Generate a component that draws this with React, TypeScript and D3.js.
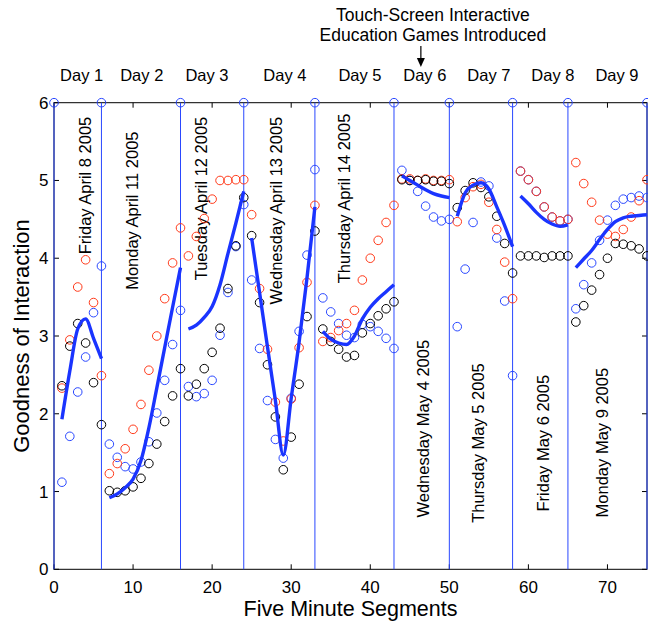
import React from 'react';
import * as d3 from 'd3';

const segments = d3.range(1, 76);

const blackValues = [
  2.36, 2.87, 3.16, 2.91, 2.40, 1.86,
  1.01, 0.99, 1.01, 1.06, 1.17, 1.36, 1.61, 1.90, 2.23, 2.58,
  2.23, 2.38, 2.58, 2.79, 3.10, 3.61, 4.16, 4.78,
  4.29, 3.43, 2.63, 1.96, 1.28, 1.70, 2.38, 3.25, 4.35,
  3.09, 2.93, 2.83, 2.73, 2.75, 3.04, 3.16, 3.26, 3.35, 3.44,
  5.01, 5.00, 5.00, 5.01, 4.99, 4.99, 4.96,
  4.65, 4.87, 4.97, 4.91, 4.79, 4.54, 4.19, 3.81,
  4.03, 4.03, 4.03, 4.01, 4.03, 4.03, 4.03,
  3.18, 3.39, 3.59, 3.79, 4.00, 4.19, 4.18, 4.16, 4.12, 4.03,
];

const redValues = [
  2.33, 2.95, 3.63, 3.98, 3.43, 2.49,
  1.23, 1.36, 1.55, 1.80, 2.12, 2.56, 3.00, 3.48, 3.94, 4.39,
  4.03, 4.28, 4.51, 4.76, 5.00, 5.00, 5.01, 5.01,
  4.56, 3.61, 2.83, 2.15, 1.65, 2.19, 2.85, 3.69, 4.68,
  2.93, 2.98, 3.07, 3.16, 3.33, 3.72, 4.00, 4.23, 4.46, 4.68,
  5.02, 5.02, 5.00, 5.02, 5.00, 5.00, 5.01,
  4.47, 4.78, 4.92, 4.95, 4.72, 4.37, 3.95, 3.48,
  5.12, 5.01, 4.86, 4.66, 4.53, 4.48, 4.50,
  5.23, 4.96, 4.72, 4.49, 4.31, 4.28, 4.37, 4.53, 4.74, 5.01,
];

const blueValues = [
  1.12, 1.71, 2.28, 2.73, 3.30, 3.90,
  1.61, 1.44, 1.32, 1.29, 1.38, 1.64, 2.01, 2.43, 2.89, 3.33,
  2.35, 2.22, 2.26, 2.43, 3.01, 3.56, 4.15, 4.69,
  3.72, 2.84, 2.17, 1.67, 1.43, 2.20, 3.06, 4.04, 5.14,
  3.49, 3.31, 3.16, 3.01, 2.98, 3.15, 3.12, 3.06, 2.97, 2.84,
  5.13, 5.00, 4.86, 4.67, 4.53, 4.48, 4.50,
  3.12, 3.86, 4.46, 4.98, 4.93, 4.26, 3.45, 2.49,
  5.12, 5.01, 4.86, 4.66, 4.53, 4.48, 4.50,
  3.35, 3.66, 3.94, 4.23, 4.49, 4.68, 4.76, 4.78, 4.80, 4.78,
];

const trendStarts = [1, 7, 17, 25, 34, 44, 51, 59, 66];
const trendValues = [
  [1.93, 2.55, 3.09, 3.22, 2.97, 2.71],
  [0.92, 0.97, 1.05, 1.16, 1.40, 1.82, 2.33, 2.85, 3.37, 3.88],
  [3.09, 3.14, 3.24, 3.38, 3.66, 4.06, 4.45, 4.86],
  [4.26, 3.56, 2.86, 2.17, 1.47, 2.20, 2.92, 3.75, 4.66],
  [3.06, 2.96, 2.91, 2.89, 3.00, 3.22, 3.37, 3.48, 3.57, 3.66],
  [5.06, 5.00, 4.94, 4.88, 4.83, 4.80, 4.78],
  [4.54, 4.84, 4.94, 4.97, 4.89, 4.66, 4.42, 4.15],
  [4.80, 4.70, 4.59, 4.50, 4.44, 4.41, 4.43],
  [3.88, 3.99, 4.10, 4.24, 4.37, 4.47, 4.52, 4.54, 4.55, 4.56],
];

const dayBoundaries = [0, 6, 16, 24, 33, 43, 50, 58, 65, 75];
const dayLabels = ['Day 1', 'Day 2', 'Day 3', 'Day 4', 'Day 5', 'Day 6', 'Day 7', 'Day 8', 'Day 9'];
const dayLabelX = [3.5, 11.1, 19.35, 29.2, 38.7, 46.9, 55.0, 63.1, 71.2];

const dateLabels = [
  'Friday April 8 2005',
  'Monday April 11 2005',
  'Tuesday April 12 2005',
  'Wednesday April 13 2005',
  'Thursday April 14 2005',
  'Wednesday May 4 2005',
  'Thursday May 5 2005',
  'Friday May 6 2005',
  'Monday May 9 2005',
];
const dateLabelX = [3.92, 9.86, 18.59, 28.07, 36.67, 46.63, 53.66, 61.88, 69.27];
const dateLabelTop = [5.82, 5.63, 5.82, 5.82, 5.86, 2.95, 2.65, 2.5, 2.59];

const xTicks = [0, 10, 20, 30, 40, 50, 60, 70];
const yTicks = [0, 1, 2, 3, 4, 5, 6];

const annotationLines = ['Touch-Screen Interactive', 'Education Games Introduced'];
const annotationX = 46.4;

const FONT = '"Liberation Sans", Arial, Helvetica, sans-serif';
const RED = '#ff3a1a';
const BLUE = '#2a48ff';
const LINE_BLUE = '#1a34ff';

export default function App() {
  const W = 648;
  const H = 623;
  const x = d3.scaleLinear().domain([0, 75]).range([54, 647]);
  const y = d3.scaleLinear().domain([0, 6]).range([569.3, 102.7]);
  const left = x(0), right = x(75), top = y(6), bottom = y(0);
  const tick = 5;
  const r = 4.3;

  const line = d3
    .line<[number, number]>()
    .x((d) => x(d[0]))
    .y((d) => y(d[1]))
    .curve(d3.curveMonotoneX);

  const annX = x(annotationX);

  return (
    <svg
      width={W}
      height={H}
      style={{ position: 'absolute', left: 0, top: 0, background: '#fff' }}
      fontFamily={FONT}
    >
      <rect x={0} y={0} width={W} height={H} fill="#fff" />
      {/* annotation */}
      {annotationLines.map((t, i) => (
        <text key={t} x={annX + 12} y={21 + i * 20} fontSize={17.5} textAnchor="middle" fill="#000">
          {t}
        </text>
      ))}
      <line x1={annX} x2={annX} y1={46} y2={60} stroke="#000" strokeWidth={1.2} />
      <path d={`M${annX - 4},58 L${annX + 4},58 L${annX},67 Z`} fill="#000" />

      {/* day labels */}
      {dayLabels.map((t, i) => (
        <text key={t} x={x(dayLabelX[i])} y={81} fontSize={16.5} textAnchor="middle" fill="#000">
          {t}
        </text>
      ))}

      {/* axes box */}
      <rect x={left} y={top} width={right - left} height={bottom - top} fill="none" stroke="#000" strokeWidth={1} />
      {xTicks.map((t) => (
        <g key={'xt' + t}>
          <line x1={x(t)} x2={x(t)} y1={bottom} y2={bottom - tick} stroke="#000" />
          <line x1={x(t)} x2={x(t)} y1={top} y2={top + tick} stroke="#000" />
          <text x={x(t)} y={592.5} fontSize={17} textAnchor="middle" fill="#000">
            {t}
          </text>
        </g>
      ))}
      {yTicks.map((t) => (
        <g key={'yt' + t}>
          <line x1={left} x2={left + tick} y1={y(t)} y2={y(t)} stroke="#000" />
          <line x1={right} x2={right - tick} y1={y(t)} y2={y(t)} stroke="#000" />
          <text x={48.5} y={y(t) + 6} fontSize={17} textAnchor="end" fill="#000">
            {t}
          </text>
        </g>
      ))}

      {/* date labels */}
      {dateLabels.map((t, i) => (
        <text
          key={t}
          transform={`translate(${x(dateLabelX[i]) + 6},${y(dateLabelTop[i])}) rotate(-90)`}
          fontSize={16.5}
          textAnchor="end"
          fill="#000"
        >
          {t}
        </text>
      ))}

      {/* day separators */}
      {dayBoundaries.map((b) => (
        <g key={'b' + b}>
          <line x1={x(b)} x2={x(b)} y1={y(6)} y2={y(0)} stroke={BLUE} strokeWidth={1} />
          <circle cx={x(b)} cy={y(6)} r={r} fill="none" stroke={BLUE} strokeWidth={1} />
        </g>
      ))}

      {/* points */}
      {segments.map((s, i) => (
        <circle key={'bl' + s} cx={x(s)} cy={y(blueValues[i])} r={r} fill="none" stroke={BLUE} strokeWidth={1} />
      ))}
      {segments.map((s, i) => (
        <circle key={'rd' + s} cx={x(s)} cy={y(redValues[i])} r={r} fill="none" stroke={RED} strokeWidth={1} />
      ))}
      {segments.map((s, i) => (
        <circle key={'bk' + s} cx={x(s)} cy={y(blackValues[i])} r={r} fill="none" stroke="#000" strokeWidth={1} />
      ))}

      {/* trend lines */}
      {trendValues.map((vals, k) => (
        <path
          key={'tr' + k}
          d={line(vals.map((v, j) => [trendStarts[k] + j, v] as [number, number])) || ''}
          fill="none"
          stroke={LINE_BLUE}
          strokeWidth={3.4}
          strokeLinejoin="round"
        />
      ))}

      {/* axis labels */}
      <text x={(left + right) / 2} y={615.5} fontSize={21.5} textAnchor="middle" fill="#000">
        Five Minute Segments
      </text>
      <text
        transform={`translate(29,${(top + bottom) / 2}) rotate(-90)`}
        fontSize={22}
        textAnchor="middle"
        fill="#000"
      >
        Goodness of Interaction
      </text>
    </svg>
  );
}
